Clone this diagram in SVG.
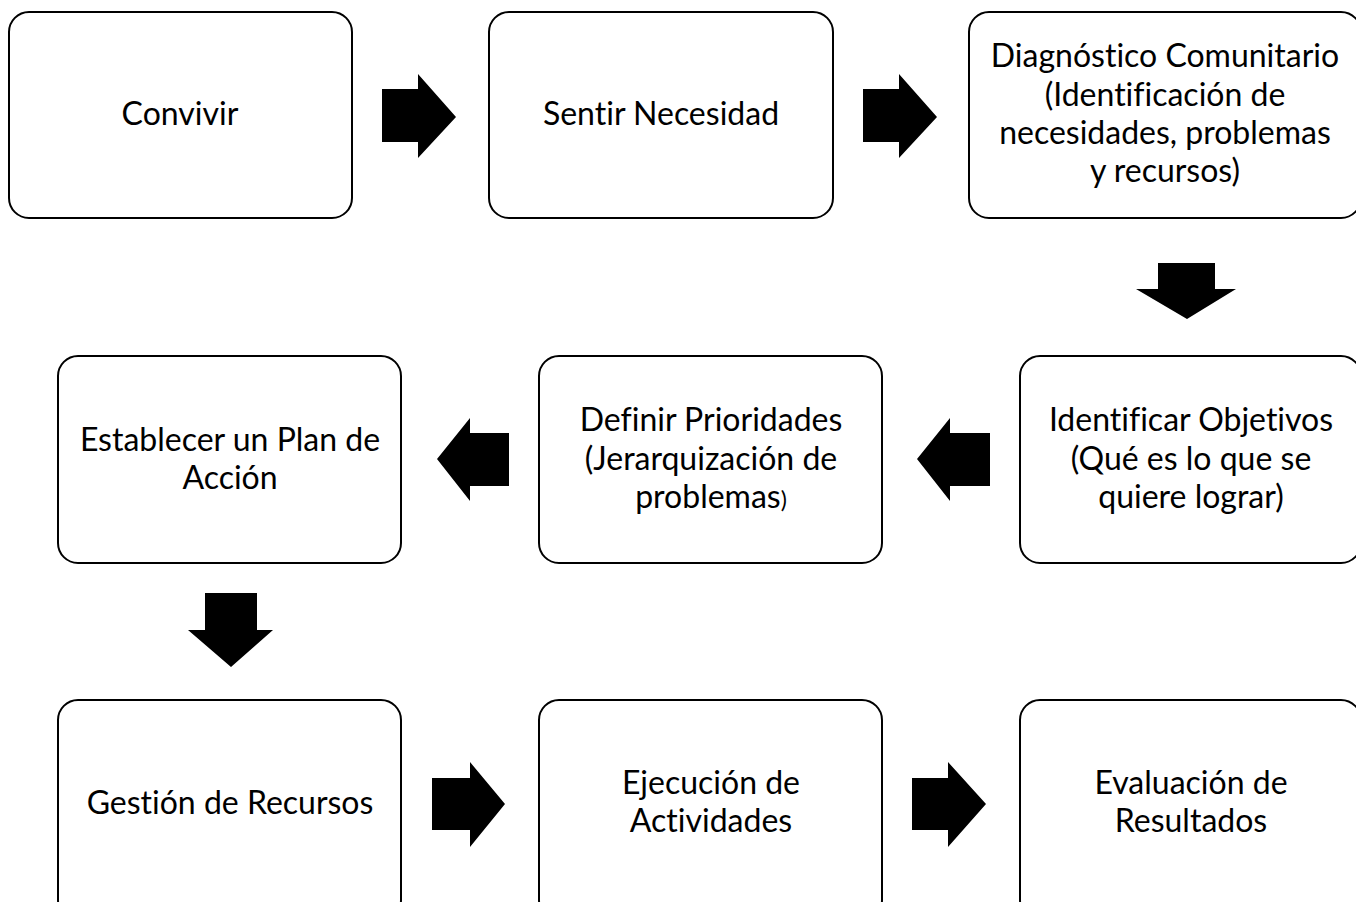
<svg xmlns="http://www.w3.org/2000/svg" width="1356" height="902" viewBox="0 0 1356 902">
<style>
.box{fill:#fff;stroke:#000;stroke-width:2}
.t{font-family:Lato,"Liberation Sans",sans-serif;font-size:32px;fill:#000;text-anchor:middle;font-variant-ligatures:none}
.arr{fill:#000}
</style>
<rect width="1356" height="902" fill="#fff"/>
<g id="connectors">
<polygon class="arr" points="382,89 418,89 418,74 456,117 418,158 418,142 382,142"/>
<polygon class="arr" points="863,89 899,89 899,74 937,117 899,158 899,142 863,142"/>
<polygon class="arr" points="1158,263 1215,263 1215,289 1236,289 1187,319 1136,289 1158,289"/>
<polygon class="arr" points="509,433 470,433 470,418 437,459 470,501 470,486 509,486"/>
<polygon class="arr" points="990,433 950,433 950,418 917,459 950,501 950,486 990,486"/>
<polygon class="arr" points="205,593 257,593 257,630 273,630 231,667 188,630 205,630"/>
<polygon class="arr" points="432,778 470,778 470,762 505,804 470,847 470,830 432,830"/>
<polygon class="arr" points="912,778 948,778 948,762 986,804 948,847 948,830 912,830"/>
</g>
<g id="n1"><rect class="box" x="9" y="12" width="343" height="206" rx="20"/><text class="t" x="180" y="125">Convivir</text></g>
<g id="n2"><rect class="box" x="489" y="12" width="344" height="206" rx="20"/><text class="t" x="661" y="125">Sentir Necesidad</text></g>
<g id="n3"><rect class="box" x="969" y="12" width="392" height="206" rx="20"/><text class="t" x="1165"><tspan x="1165" y="67">Diagnóstico Comunitario</tspan><tspan x="1165" y="106">(Identificación de</tspan><tspan x="1165" y="144">necesidades, problemas</tspan><tspan x="1165" y="182">y recursos)</tspan></text></g>
<g id="n4"><rect class="box" x="1020" y="356" width="341" height="207" rx="20"/><text class="t"><tspan x="1191" y="431">Identificar Objetivos</tspan><tspan x="1191" y="470">(Qué es lo que se</tspan><tspan x="1191" y="508">quiere lograr)</tspan></text></g>
<g id="n5"><rect class="box" x="539" y="356" width="343" height="207" rx="20"/><text class="t"><tspan x="711" y="431">Definir Prioridades</tspan><tspan x="711" y="470">(Jerarquización de</tspan><tspan x="711" y="508">problemas<tspan style="font-size:23px">)</tspan></tspan></text></g>
<g id="n6"><rect class="box" x="58" y="356" width="343" height="207" rx="20"/><text class="t"><tspan x="230" y="451">Establecer un Plan de</tspan><tspan x="230" y="489">Acción</tspan></text></g>
<g id="n7"><rect class="box" x="58" y="700" width="343" height="220" rx="20"/><text class="t" x="230" y="814">Gestión de Recursos</text></g>
<g id="n8"><rect class="box" x="539" y="700" width="343" height="220" rx="20"/><text class="t"><tspan x="711" y="794">Ejecución de</tspan><tspan x="711" y="832">Actividades</tspan></text></g>
<g id="n9"><rect class="box" x="1020" y="700" width="341" height="220" rx="20"/><text class="t"><tspan x="1191" y="794">Evaluación de</tspan><tspan x="1191" y="832">Resultados</tspan></text></g>
</svg>
